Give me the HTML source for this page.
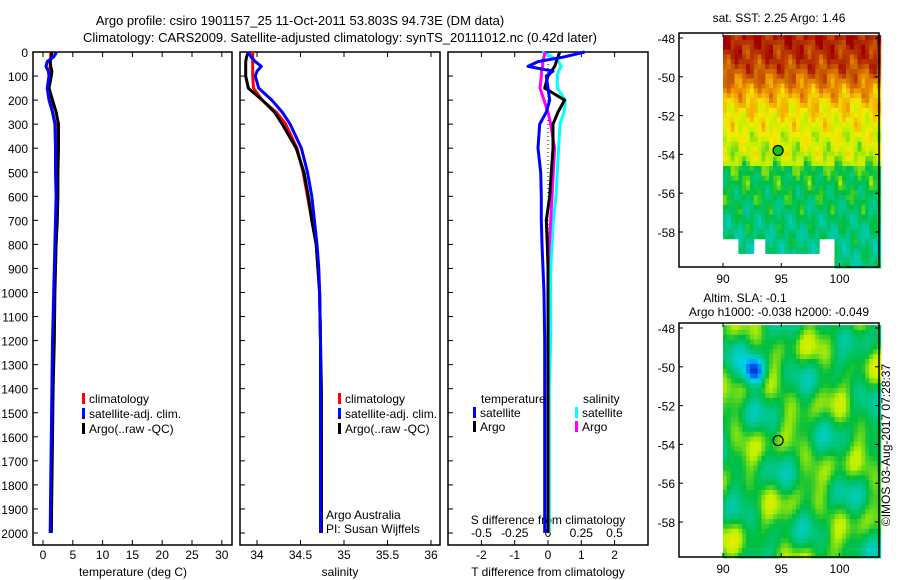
<!DOCTYPE html>
<html><head><meta charset="utf-8"><style>
body{margin:0;background:#fff}
svg{display:block;font-family:"Liberation Sans",sans-serif}
text{font-size:12px;fill:#000}
</style></head><body>
<svg id="c" width="900" height="580" viewBox="0 0 900 580">
<text x="300" y="25" text-anchor="middle" style="font-size:13px">Argo profile: csiro 1901157_25 11-Oct-2011 53.803S 94.73E (DM data)</text>
<text x="340" y="42" text-anchor="middle" style="font-size:13px">Climatology: CARS2009. Satellite-adjusted climatology: synTS_20111012.nc (0.42d later)</text>
</svg>
<script>
// ---- data ----
const depthTicks=[0,100,200,300,400,500,600,700,800,900,1000,1100,1200,1300,1400,1500,1600,1700,1800,1900,2000];
const tempTicks=[0,5,10,15,20,25,30];
const salTicks=[34,34.5,35,35.5,36];
const tdTicks=[-2,-1,0,1,2];
const sdTicks=["-0.5","-0.25","0","0.25","0.5"];
const depths=[0,20,40,60,80,100,150,200,250,300,400,500,600,700,800,900,1000,1200,1400,1600,1800,2000];
const tempClim=[1.3,1.3,1.2,1.2,1.1,1.0,0.9,1.2,1.6,2.1,2.3,2.3,2.3,2.2,2.1,2.0,1.9,1.8,1.6,1.5,1.4,1.3];
const tempSat =[2.3,1.8,0.7,0.5,0.9,1.0,0.7,1.0,1.6,2.0,2.1,2.1,2.2,2.1,2.0,1.9,1.8,1.6,1.5,1.4,1.3,1.2];
const tempArgo=[1.5,1.4,1.2,1.3,1.5,1.4,1.0,1.6,2.2,2.6,2.6,2.5,2.5,2.4,2.2,2.1,2.0,1.9,1.7,1.6,1.5,1.4];
const salClim=[33.95,33.95,33.95,33.95,33.95,33.95,33.96,34.06,34.22,34.33,34.46,34.53,34.58,34.63,34.68,34.7,34.72,34.73,34.73,34.74,34.74,34.74];
const salSat =[33.9,33.93,33.98,34.05,34.0,33.98,34.02,34.17,34.29,34.38,34.51,34.58,34.63,34.66,34.69,34.71,34.72,34.73,34.73,34.73,34.73,34.73];
const salArgo=[33.9,33.88,33.87,33.87,33.87,33.87,33.9,34.06,34.2,34.29,34.45,34.54,34.59,34.63,34.68,34.7,34.72,34.73,34.74,34.74,34.74,34.74];
const tdSat =[1.1,0.5,-0.3,-0.6,0.15,-0.05,0.0,0.05,-0.05,-0.25,-0.3,-0.22,-0.2,-0.2,-0.18,-0.15,-0.12,-0.1,-0.1,-0.1,-0.1,-0.1];
const tdArgo=[0.35,0.3,0.25,0.2,0.1,0.0,-0.1,0.5,0.3,0.15,0.15,0.1,0.05,-0.05,-0.02,0.0,0.0,0.0,0.0,0.0,0.0,0.0];
const sdSat =[-0.045,0.03,0.08,0.1,0.08,0.07,0.07,0.13,0.12,0.09,0.08,0.07,0.06,0.04,0.03,0.02,0.02,0.02,0.01,0.01,0.01,0.01];
const sdArgo=[-0.02,-0.03,-0.04,-0.04,-0.05,-0.05,-0.06,-0.03,0.0,0.02,0.05,0.04,0.03,0.02,0.01,0.0,0.0,0.0,0.0,0.0,0.0,0.0];
const mapLatTicks=[-48,-50,-52,-54,-56,-58];
const mapLonTicks=[90,95,100];
const sstLat=[-48,-49.5,-50.5,-51.5,-53,-54.3,-54.6,-56,-57.5,-59.8];
const sstVal=[0.96,0.9,0.8,0.72,0.66,0.62,0.53,0.5,0.46,0.44];
const argoLon=94.73, argoLat=-53.8;

const NS='http://www.w3.org/2000/svg';
const svg=document.getElementById('c');
function el(t,a,p){const e=document.createElementNS(NS,t);for(const k in a)e.setAttribute(k,a[k]);(p||svg).appendChild(e);return e;}
const yD=d=>52+d*0.2405;
const xT=v=>43+v*5.96;
const xS=v=>257+(v-34)*87;
const xTD=v=>548+v*33.3;
const xSD=v=>548+v*133;

function frame(x0,x1,y0,y1,name){
  const r=el('rect',{x:x0,y:y0,width:x1-x0,height:y1-y0,fill:'none',stroke:'#000','stroke-width':1.5});
  
  
}
function tickLabel(x,y,s,anchor,name){const t=el('text',{x:x,y:y,'text-anchor':anchor});t.textContent=s;
  
  return t;}
function line(xs,vals,fx,color,name,w){
  const pts=vals.map((v,i)=>fx(v).toFixed(1)+','+yD(depths[i]).toFixed(1)).join(' ');
  const p=el('polyline',{points:pts,fill:'none',stroke:color,'stroke-width':w||3,'stroke-linejoin':'round'});
  
  
}
const panels=[[33,232],[240,440],[448,648]];
panels.forEach((p,i)=>{
  frame(p[0],p[1],52,545,'profile-panel-'+(i+1));
  depthTicks.forEach(d=>{el('line',{x1:p[0],x2:p[0]+5,y1:yD(d),y2:yD(d),stroke:'#000'});});
});
depthTicks.forEach(d=>tickLabel(28,yD(d)+5,String(d),'end','depth-tick-label'));
tempTicks.forEach(v=>{const x=xT(v);el('line',{x1:x,x2:x,y1:545,y2:540,stroke:'#000'});el('line',{x1:x,x2:x,y1:52,y2:57,stroke:'#000'});tickLabel(x,559,String(v),'middle','temp-tick-label');});
salTicks.forEach(v=>{const x=xS(v);el('line',{x1:x,x2:x,y1:545,y2:540,stroke:'#000'});el('line',{x1:x,x2:x,y1:52,y2:57,stroke:'#000'});tickLabel(x,559,String(v),'middle','sal-tick-label');});
tdTicks.forEach(v=>{const x=xTD(v);el('line',{x1:x,x2:x,y1:545,y2:540,stroke:'#000'});el('line',{x1:x,x2:x,y1:52,y2:57,stroke:'#000'});tickLabel(x,559,String(v),'middle','tdiff-tick-label');});
sdTicks.forEach(s=>tickLabel(xSD(parseFloat(s)),537,s,'middle','sdiff-tick-label'));
tickLabel(133,576,'temperature (deg C)','middle','x-axis-title-temperature');
tickLabel(340,576,'salinity','middle','x-axis-title-salinity');
tickLabel(548,576,'T difference from climatology','middle','x-axis-title-tdiff');
tickLabel(548,524,'S difference from climatology','middle','x-axis-title-sdiff');
const zl=el('line',{x1:548,x2:548,y1:yD(0),y2:yD(2000),stroke:'#000','stroke-dasharray':'1,3'});


line(0,tempClim,xT,'#f00','temp-climatology-line');
line(0,tempArgo,xT,'#000','temp-argo-line');
line(0,tempSat,xT,'#00f','temp-satellite-line');
line(0,salClim,xS,'#f00','sal-climatology-line');
line(0,salArgo,xS,'#000','sal-argo-line');
line(0,salSat,xS,'#00f','sal-satellite-line');
line(0,sdSat,xSD,'#0ff','sdiff-satellite-line');
line(0,sdArgo,xSD,'#f0f','sdiff-argo-line');
line(0,tdArgo,xTD,'#000','tdiff-argo-line');
line(0,tdSat,xTD,'#00f','tdiff-satellite-line');
function legend(x,y,color,label,name){const g=el('g',{});
  el('rect',{x:x,y:y-10,width:3,height:11,fill:color},g);const t=el('text',{x:x+7,y:y},g);t.textContent=label;}
[[82,'#f00','climatology'],[82,'#00f','satellite-adj. clim.'],[82,'#000','Argo(..raw -QC)']].forEach((l,i)=>{legend(l[0],403+i*15,l[1],l[2],'legend-entry-temp');legend(338,403+i*15,l[1],l[2],'legend-entry-sal');});
tickLabel(481,403,'temperature','start','legend-title-temperature');
tickLabel(583,403,'salinity','start','legend-title-salinity');
legend(473,417,'#00f','satellite','legend-entry-tsat');
legend(473,431,'#000','Argo','legend-entry-targo');
legend(575,417,'#0ff','satellite','legend-entry-ssat');
legend(575,431,'#f0f','Argo','legend-entry-sargo');
tickLabel(326,519,'Argo Australia','start','credit-argo-australia');
tickLabel(326,533,'PI: Susan Wijffels','start','credit-pi');

// ---- maps ----
const stops=[[0,[0,0,140]],[0.15,[0,90,255]],[0.3,[0,210,235]],[0.42,[0,200,150]],[0.52,[0,190,60]],[0.62,[190,240,0]],[0.7,[245,235,0]],[0.8,[240,150,0]],[0.88,[200,90,0]],[1,[160,0,0]]];
function cmap(v){v=Math.max(0,Math.min(1,v));for(let i=1;i<stops.length;i++){if(v<=stops[i][0]){const a=stops[i-1],b=stops[i],f=(v-a[0])/(b[0]-a[0]);return 'rgb('+a[1].map((c,k)=>Math.round(c+(b[1][k]-c)*f)).join(',')+')';}}return 'rgb(160,0,0)';}
function interpSST(lat){for(let i=1;i<sstLat.length;i++){if(lat>=sstLat[i]){const f=(lat-sstLat[i-1])/(sstLat[i]-sstLat[i-1]);return sstVal[i-1]+(sstVal[i]-sstVal[i-1])*f;}}return sstVal[sstVal.length-1];}
function mapPanel(y0,name,valFn,maskFn,filled){
  const x0=679,x1=879,y1=y0+234;
  const xL=lon=>723+(lon-90)*11.65, yL=lat=>y0+5+(-48-lat)*19.4;
  const g=el('g',{});
  const dlon=0.33,dlat=0.25;
  for(let lat=-47.85;lat>-59.8;lat-=dlat){for(let lon=90;lon<103.3;lon+=dlon){
    if(maskFn&&!maskFn(lon,lat))continue;
    el('rect',{x:xL(lon).toFixed(1),y:yL(lat).toFixed(1),width:(dlon*11.65+0.6).toFixed(1),height:(dlat*19.4+0.6).toFixed(1),fill:cmap(valFn(lon,lat))},g);
  }}
  frame(x0,x1,y0,y1,name+'-frame');
  mapLatTicks.forEach(l=>{el('line',{x1:x0,x2:x0+4,y1:yL(l),y2:yL(l),stroke:'#000'});el('line',{x1:x1,x2:x1-4,y1:yL(l),y2:yL(l),stroke:'#000'});tickLabel(675,yL(l)+5,String(l),'end','map-lat-label');});
  mapLonTicks.forEach(l=>{el('line',{x1:xL(l),x2:xL(l),y1:y1,y2:y1-4,stroke:'#000'});el('line',{x1:xL(l),x2:xL(l),y1:y0,y2:y0+4,stroke:'#000'});tickLabel(xL(l),y1+16,String(l),'middle','map-lon-label');});
  const c=el('circle',{cx:xL(argoLon),cy:yL(argoLat),r:5,fill:filled?'#10c020':'none',stroke:'#000','stroke-width':1.2});
  
  
}
mapPanel(33,'sst-map',(lon,lat)=>interpSST(lat)+0.04*Math.sin(lon*2.3+lat*3.1)+0.035*Math.cos(lon*4.7-lat*2.3)+0.02*Math.sin(lon*7.1+lat*5.3),
  (lon,lat)=>lat>-58.3||(lon>=91&&lon<92.5&&lat>-58.9)||(lon>=93.5&&lon<98&&lat>-59)||(lon>=99.5&&lat>-59.8),true);
mapPanel(323,'sla-map',(lon,lat)=>{
  let v=0.52+0.05*Math.sin(lon*1.3+lat*0.9)+0.05*Math.cos(lon*0.7-lat*1.7)+0.04*Math.sin(lat*2.3+lon*0.4)+0.03*Math.sin(lon*2.9-lat*1.1);
  const d=(lon-92.5)**2+((lat+50.1)*1.3)**2; v-=0.45*Math.exp(-d/0.8);
  return v;},null,false);
tickLabel(779,22,'sat. SST: 2.25 Argo: 1.46','middle','sst-map-title');
tickLabel(745,302,'Altim. SLA: -0.1','middle','sla-map-title-1');
tickLabel(779,316,'Argo h1000: -0.038 h2000: -0.049','middle','sla-map-title-2');
const cp=tickLabel(0,0,'©IMOS 03-Aug-2017 07:28:37','middle','copyright-stamp');
cp.setAttribute('transform','translate(890,445) rotate(-90)');
</script>
</body></html>
